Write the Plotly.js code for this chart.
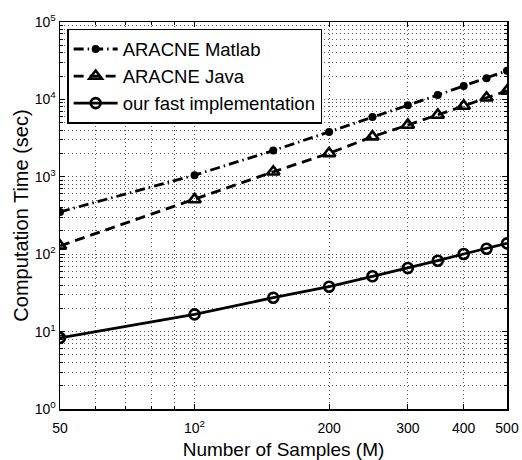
<!DOCTYPE html>
<html>
<head>
<meta charset="utf-8">
<script src="https://cdn.plot.ly/plotly-3.0.1.min.js"></script>
<style>html,body{margin:0;padding:0;background:#fff}#chart{width:522px;height:460px}</style>
</head>
<body>
<div id="chart"></div>
<script>
var samples = [50, 100, 150, 200, 250, 300, 350, 400, 450, 500];
var matlabTime = [352, 1050, 2180, 3790, 5930, 8390, 11400, 14900, 18700, 23500];
var javaTime = [128, 510, 1160, 2010, 3300, 4670, 6290, 8220, 10500, 12900];
var fastTime = [8.3, 16.7, 27.4, 38.0, 51.8, 66.3, 82.4, 100.6, 117.8, 138];
var seriesNames = ['ARACNE Matlab', 'ARACNE Java', 'our fast implementation'];

var xTickVals = [50, 100, 200, 300, 400, 500];
var xTickText = ['50', '10<sup>2</sup>', '200', '300', '400', '500'];
var xMinorVals = [60, 70, 80, 90];
var yTickVals = [1, 10, 100, 1000, 10000, 100000];
var yTickText = ['10<sup>0</sup>', '10<sup>1</sup>', '10<sup>2</sup>', '10<sup>3</sup>', '10<sup>4</sup>', '10<sup>5</sup>'];
var yMinorVals = [];
for (var d = 0; d < 5; d++) { for (var k = 2; k <= 9; k++) { yMinorVals.push(k * Math.pow(10, d)); } }

var font = 'Liberation Sans, Arial, Helvetica, sans-serif';
var lw = 2.8;
var gridColor = '#555';
var gridDash = '1px,3px';

var traces = [
  {x: samples, y: matlabTime, name: seriesNames[0], mode: 'lines+markers',
   line: {color: '#000', width: lw, dash: '10px,4px,1.5px,4px'},
   marker: {symbol: 'circle', size: 8, color: '#000'}},
  {x: samples, y: javaTime, name: seriesNames[1], mode: 'lines+markers',
   line: {color: '#000', width: lw, dash: '10px,6px'},
   marker: {symbol: 'triangle-up-open', size: 11, color: '#000', line: {width: 2.6, color: '#000'}}},
  {x: samples, y: fastTime, name: seriesNames[2], mode: 'lines+markers',
   line: {color: '#000', width: lw},
   marker: {symbol: 'circle-open', size: 10, color: '#000', line: {width: 2.6, color: '#000'}}}
];

var layout = {
  width: 522, height: 460,
  margin: {l: 60, r: 15, t: 22, b: 51},
  paper_bgcolor: '#fff', plot_bgcolor: '#fff',
  font: {family: font, size: 14, color: '#000'},
  showlegend: true,
  legend: {x: 0.016, y: 0.982, xanchor: 'left', yanchor: 'top',
    bgcolor: '#fff', bordercolor: '#000', borderwidth: 1.5,
    font: {family: font, size: 18.5, color: '#000'}, itemwidth: 44, tracegroupgap: 0},
  xaxis: {
    type: 'log', range: [Math.log10(50), Math.log10(500)],
    tickmode: 'array', tickvals: xTickVals, ticktext: xTickText,
    ticks: 'inside', ticklen: 5, tickcolor: '#000', tickwidth: 1,
    ticklabelstandoff: 6,
    showline: true, linecolor: '#000', linewidth: 1.5, mirror: 'allticks',
    showgrid: true, gridcolor: gridColor, griddash: gridDash, gridwidth: 1,
    minor: {tickmode: 'array', tickvals: xMinorVals, ticks: 'inside', ticklen: 3, tickcolor: '#000',
            showgrid: true, gridcolor: gridColor, griddash: gridDash, gridwidth: 1},
    zeroline: false,
    tickfont: {family: font, size: 14, color: '#000'},
    title: {text: 'Number of Samples (M)', font: {family: font, size: 19, color: '#000'}, standoff: 8}
  },
  yaxis: {
    type: 'log', range: [0, 5],
    tickmode: 'array', tickvals: yTickVals, ticktext: yTickText,
    ticks: 'inside', ticklen: 5, tickcolor: '#000', tickwidth: 1,
    showline: true, linecolor: '#000', linewidth: 1.5, mirror: 'allticks',
    showgrid: true, gridcolor: gridColor, griddash: gridDash, gridwidth: 1,
    minor: {tickmode: 'array', tickvals: yMinorVals, ticks: 'inside', ticklen: 3, tickcolor: '#000',
            showgrid: true, gridcolor: gridColor, griddash: gridDash, gridwidth: 1},
    zeroline: false,
    tickfont: {family: font, size: 14, color: '#000'},
    title: {text: 'Computation Time (sec)', font: {family: font, size: 20, color: '#000'}, standoff: 0}
  }
};

Plotly.newPlot('chart', traces, layout, {displayModeBar: false, staticPlot: true});
</script>
</body>
</html>
